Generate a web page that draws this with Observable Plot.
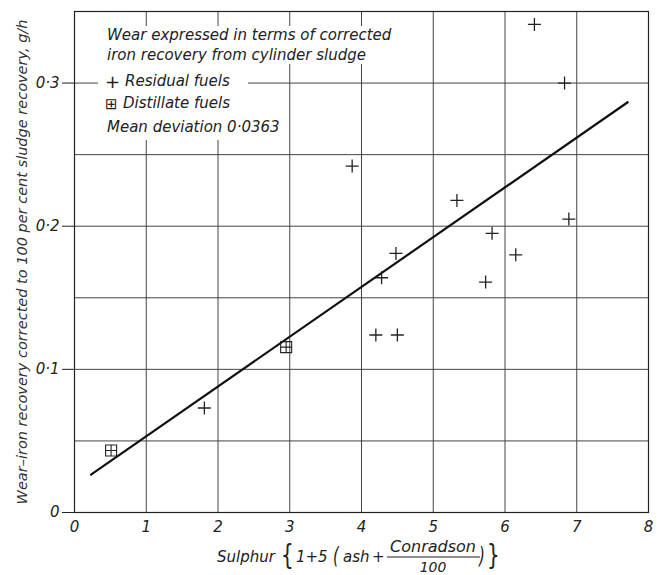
<!DOCTYPE html>
<html>
<head>
<meta charset="utf-8">
<script src="https://cdn.jsdelivr.net/npm/d3@7"></script>
<script src="https://cdn.jsdelivr.net/npm/@observablehq/plot@0.6"></script>
<style>
  html, body { margin: 0; padding: 0; background: white; }
</style>
</head>
<body>
<div id="chart"></div>
<script>
// ---- data ----
const residualX = [6.41, 6.83, 3.87, 5.33, 4.48, 4.28, 4.20, 4.50, 6.89, 5.82, 6.15, 5.73, 1.81];
const residualY = [0.341, 0.300, 0.242, 0.218, 0.181, 0.164, 0.124, 0.124, 0.205, 0.195, 0.180, 0.161, 0.073];
const distillateX = [0.51, 2.95];
const distillateY = [0.0433, 0.1155];
const fitX = [0.23, 7.71];
const fitY = [0.0265, 0.2866];
const xTicks = [0, 1, 2, 3, 4, 5, 6, 7, 8];
const yTicks = [0, 0.1, 0.2, 0.3];
const yGridValues = [0, 0.05, 0.1, 0.15, 0.2, 0.25, 0.3, 0.35];
const legendHeader = ["Wear expressed in terms of corrected", "iron recovery from cylinder sludge"];
const legendItems = ["Residual fuels", "Distillate fuels"];
const legendNote = "Mean deviation 0·0363";
const yLabel = "Wear–iron recovery corrected to 100 per cent sludge recovery, g/h";

const residual = residualX.map((x, i) => ({x, y: residualY[i]}));
const distillate = distillateX.map((x, i) => ({x, y: distillateY[i]}));
const fit = fitX.map((x, i) => ({x, y: fitY[i]}));

// thin cross symbol
const thinPlus = {
  draw(ctx, size) {
    const r = Math.sqrt(size / Math.PI);
    ctx.moveTo(-r, 0); ctx.lineTo(r, 0);
    ctx.moveTo(0, -r); ctx.lineTo(0, r);
  }
};
// squared cross symbol
const boxPlus = {
  draw(ctx, size) {
    const s = Math.sqrt(size / Math.PI);
    ctx.moveTo(-s, -s); ctx.lineTo(s, -s); ctx.lineTo(s, s); ctx.lineTo(-s, s); ctx.closePath();
    ctx.moveTo(-s, 0); ctx.lineTo(s, 0);
    ctx.moveTo(0, -s); ctx.lineTo(0, s);
  }
};

const ink = "#222";
const gridInk = "#444";
const fmtY = d => d === 0 ? "0" : d.toFixed(1).replace(".", "·");

const chart = Plot.plot({
  width: 662,
  height: 575,
  marginLeft: 74,
  marginRight: 14,
  marginTop: 11,
  marginBottom: 63,
  x: {domain: [0, 8]},
  y: {domain: [0, 0.35]},
  style: {fontFamily: "'DejaVu Sans', sans-serif", fontStyle: "italic", fontSize: "15px", color: ink, background: "white"},
  marks: [
    Plot.ruleX(xTicks, {stroke: gridInk, strokeWidth: 1}),
    Plot.ruleY(yGridValues, {stroke: gridInk, strokeWidth: 1}),
    Plot.frame({stroke: ink, strokeWidth: 1.2}),
    Plot.axisX({ticks: xTicks, tickSize: 0, tickPadding: 9, label: null, fontSize: 15, tickFormat: d => String(d)}),
    Plot.axisY({ticks: yTicks, tickSize: 12, tickPadding: 3, label: null, fontSize: 15, tickFormat: fmtY, stroke: ink}),
    Plot.line(fit, {x: "x", y: "y", stroke: "#111", strokeWidth: 2.2}),
    Plot.dot(residual, {x: "x", y: "y", symbol: thinPlus, r: 6.5, fill: "none", stroke: ink, strokeWidth: 1.3}),
    Plot.dot(distillate, {x: "x", y: "y", symbol: boxPlus, r: 5.5, fill: "none", stroke: ink, strokeWidth: 1.1})
  ]
});
document.getElementById("chart").appendChild(chart);

// ---- annotations: legend box, axis titles ----
const svg = d3.select(chart);
const g = svg.append("g").attr("fill", ink).style("font-style", "italic").style("font-family", "'DejaVu Sans', sans-serif");

// white panel behind the legend text (hides gridlines as in the reference)
g.append("rect").attr("x", 98).attr("y", 26).attr("width", 150).attr("height", 114).attr("fill", "white");
g.append("rect").attr("x", 247).attr("y", 26).attr("width", 148).attr("height", 38).attr("fill", "white");

function halo(sel) {
  return sel.attr("stroke", "white").attr("stroke-width", 5).attr("paint-order", "stroke").attr("stroke-linejoin", "round");
}
const lt = (txt, x, y, size = 15) => halo(g.append("text").attr("x", x).attr("y", y).attr("font-size", size).attr("text-anchor", "start").text(txt));

lt(legendHeader[0], 107, 40);
lt(legendHeader[1], 107, 60);
lt("+", 105, 88, 18);
lt(legendItems[0], 125, 86);
lt("⊞", 105, 109, 15);
lt(legendItems[1], 123, 108);
lt(legendNote, 107, 132);

// y-axis title
g.append("text")
  .attr("transform", "translate(22,262) rotate(-90)")
  .attr("text-anchor", "middle")
  .attr("dominant-baseline", "central")
  .attr("font-size", 14.5)
  .attr("fill", "#333")
  .text(yLabel);

// x-axis title: Sulphur {1+5 (ash + Conradson/100)}
const xt = g.append("g").attr("font-size", 15);
xt.append("text").attr("x", 217).attr("y", 562).attr("text-anchor", "start").text("Sulphur");
xt.append("text").attr("transform", "translate(281,565) scale(1,1.45)").attr("font-size", 20).attr("font-style", "normal").attr("text-anchor", "start").text("{");
xt.append("text").attr("x", 296).attr("y", 562).attr("text-anchor", "start").text("1+5");
xt.append("text").attr("transform", "translate(333,564) scale(1,1.5)").attr("text-anchor", "start").text("(");
xt.append("text").attr("x", 343).attr("y", 562).attr("text-anchor", "start").text("ash");
xt.append("text").attr("x", 372).attr("y", 562).attr("text-anchor", "start").text("+");
xt.append("text").attr("x", 433).attr("y", 552).attr("text-anchor", "middle").attr("font-size", 16).text("Conradson");
xt.append("line").attr("x1", 387).attr("x2", 480).attr("y1", 557).attr("y2", 557).attr("stroke", ink).attr("stroke-width", 1.1);
xt.append("text").attr("x", 433).attr("y", 572).attr("text-anchor", "middle").attr("font-size", 14).text("100");
xt.append("text").attr("transform", "translate(479,564) scale(1,1.5)").attr("text-anchor", "start").text(")");
xt.append("text").attr("transform", "translate(487,565) scale(1,1.45)").attr("font-size", 20).attr("font-style", "normal").attr("text-anchor", "start").text("}");
</script>
</body>
</html>
